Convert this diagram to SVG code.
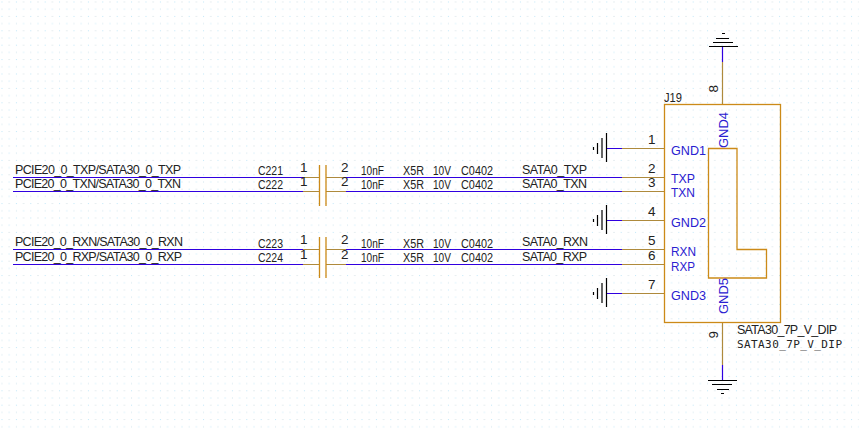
<svg xmlns="http://www.w3.org/2000/svg" width="859" height="431" viewBox="0 0 859 431">
<style>
text{font-family:"Liberation Sans",Arial,sans-serif;font-size:12.5px;fill:#222}
.p{font-size:13.5px}
.b{fill:#2a20d0;font-size:13.5px}
.m{font-family:"DejaVu Sans Mono","Liberation Mono",monospace;font-size:11px}
.w,.pin,.box,.k{fill:none;stroke-width:1.2}
.w{stroke:#3000e0}
.pin{stroke:#ae8a3c}
.box{stroke:#cc8a18;stroke-width:1.3}
.k{stroke:#000;stroke-width:1.2}
</style>
<defs>
<pattern id="dots" width="14.4" height="14.4" patternUnits="userSpaceOnUse" x="1.5" y="1.5">
<rect width="1" height="1" fill="#bfe6f7"/><rect x="7.2" width="1" height="1" fill="#cfdde2"/><rect y="7.2" width="1" height="1" fill="#cfe4ec"/><rect x="7.2" y="7.2" width="1" height="1" fill="#c4e8f7"/>
</pattern>
<g id="gl"><path class="k" d="M606.5 133V162M602 138V158M597.5 143V154M593.5 147V150"/></g>
</defs>
<rect width="859" height="431" fill="#fff"/>
<rect width="859" height="431" fill="url(#dots)"/>
<g id="connectors">
<path class="w" d="M13 177.5H303M13 191.5H303M13 249.5H303M13 264.5H303"/>
<path class="pin" d="M303 177.5H319M303 191.5H319M303 249.5H319M303 264.5H319M326 177.5H346M326 191.5H346M326 249.5H346M326 264.5H346"/>
<path class="w" d="M346 177.5H622M346 191.5H622M346 249.5H622M346 264.5H622"/>
<path class="pin" d="M622 177.5H665M622 191.5H665M622 249.5H665M622 264.5H665"/>
<path class="w" d="M607 148.5H622M607 220.5H622M607 293.5H622"/>
<path class="pin" d="M622 148.5H665M622 220.5H665M622 293.5H665"/>
<path class="w" d="M722.5 46V62M722.5 365V380"/>
<path class="pin" d="M722.5 62V104M722.5 322V365"/>
</g>
<g id="C221"><path class="box" d="M319.5 165V206M326 165V206"/><text x="258" y="175" textLength="25" lengthAdjust="spacingAndGlyphs">C221</text><text class="p" x="300" y="172">1</text><text class="p" x="341" y="172">2</text><text x="361" y="175" textLength="23" lengthAdjust="spacingAndGlyphs">10nF</text><text x="403" y="175" textLength="21" lengthAdjust="spacingAndGlyphs">X5R</text><text x="433" y="175" textLength="18" lengthAdjust="spacingAndGlyphs">10V</text><text x="461" y="175" textLength="32" lengthAdjust="spacingAndGlyphs">C0402</text></g>
<g id="C222"><text x="258" y="189" textLength="25" lengthAdjust="spacingAndGlyphs">C222</text><text class="p" x="300" y="186">1</text><text class="p" x="341" y="186">2</text><text x="361" y="189" textLength="23" lengthAdjust="spacingAndGlyphs">10nF</text><text x="403" y="189" textLength="21" lengthAdjust="spacingAndGlyphs">X5R</text><text x="433" y="189" textLength="18" lengthAdjust="spacingAndGlyphs">10V</text><text x="461" y="189" textLength="32" lengthAdjust="spacingAndGlyphs">C0402</text></g>
<g id="C223"><path class="box" d="M319.5 237V278M326 237V278"/><text x="258" y="248" textLength="25" lengthAdjust="spacingAndGlyphs">C223</text><text class="p" x="300" y="244">1</text><text class="p" x="341" y="244">2</text><text x="361" y="248" textLength="23" lengthAdjust="spacingAndGlyphs">10nF</text><text x="403" y="248" textLength="21" lengthAdjust="spacingAndGlyphs">X5R</text><text x="433" y="248" textLength="18" lengthAdjust="spacingAndGlyphs">10V</text><text x="461" y="248" textLength="32" lengthAdjust="spacingAndGlyphs">C0402</text></g>
<g id="C224"><text x="258" y="262" textLength="25" lengthAdjust="spacingAndGlyphs">C224</text><text class="p" x="300" y="259">1</text><text class="p" x="341" y="259">2</text><text x="361" y="262" textLength="23" lengthAdjust="spacingAndGlyphs">10nF</text><text x="403" y="262" textLength="21" lengthAdjust="spacingAndGlyphs">X5R</text><text x="433" y="262" textLength="18" lengthAdjust="spacingAndGlyphs">10V</text><text x="461" y="262" textLength="32" lengthAdjust="spacingAndGlyphs">C0402</text></g>
<g id="nets">
<text x="15" y="174" textLength="166">PCIE20_0_TXP/SATA30_0_TXP</text>
<text x="15" y="188" textLength="166">PCIE20_0_TXN/SATA30_0_TXN</text>
<text x="15" y="246" textLength="168">PCIE20_0_RXN/SATA30_0_RXN</text>
<text x="15" y="261" textLength="167">PCIE20_0_RXP/SATA30_0_RXP</text>
<text x="522" y="174" textLength="65">SATA0_TXP</text>
<text x="522" y="188" textLength="65">SATA0_TXN</text>
<text x="522" y="246" textLength="66">SATA0_RXN</text>
<text x="522" y="261" textLength="65">SATA0_RXP</text>
</g>
<g id="gnd1"><use href="#gl"/></g>
<g id="gnd2"><use href="#gl" y="72"/></g>
<g id="gnd3"><use href="#gl" y="145"/></g>
<g id="gnd4"><path class="k" d="M709 46.5H738M713 42.5H733M716 38.5H729M722 33.5H725"/></g>
<g id="gnd5"><path class="k" d="M708 380.5H737M712 384.5H732M717 389.5H729M721 393.5H724"/></g>
<g id="J19">
<rect class="box" x="664.5" y="104.5" width="116" height="218"/>
<path class="box" d="M708.5 148.5H737V249.5H766.5V278H708.5Z"/>
<text x="664" y="102" textLength="18" lengthAdjust="spacingAndGlyphs">J19</text>
<text class="p" x="648" y="144">1</text><text class="p" x="648" y="173">2</text><text class="p" x="648" y="187">3</text><text class="p" x="648" y="216">4</text><text class="p" x="648" y="245">5</text><text class="p" x="648" y="260">6</text><text class="p" x="648" y="289">7</text>
<text class="p" transform="translate(718 92.5) rotate(-90)">8</text>
<text class="p" transform="translate(718 338.5) rotate(-90)">9</text>
<text class="b" x="671" y="155" textLength="35" lengthAdjust="spacingAndGlyphs">GND1</text><text class="b" x="671" y="183" textLength="24" lengthAdjust="spacingAndGlyphs">TXP</text><text class="b" x="671" y="197" textLength="24" lengthAdjust="spacingAndGlyphs">TXN</text><text class="b" x="671" y="227" textLength="35" lengthAdjust="spacingAndGlyphs">GND2</text><text class="b" x="671" y="256" textLength="25" lengthAdjust="spacingAndGlyphs">RXN</text><text class="b" x="671" y="271" textLength="24" lengthAdjust="spacingAndGlyphs">RXP</text><text class="b" x="671" y="300" textLength="35" lengthAdjust="spacingAndGlyphs">GND3</text>
<text class="b" transform="translate(727.5 148) rotate(-90)" textLength="36" lengthAdjust="spacingAndGlyphs">GND4</text>
<text class="b" transform="translate(727.5 314) rotate(-90)" textLength="36" lengthAdjust="spacingAndGlyphs">GND5</text>
<text x="737" y="334" textLength="100">SATA30_7P_V_DIP</text>
<text class="m" x="737" y="348" textLength="105">SATA30_7P_V_DIP</text>
</g>
</svg>
